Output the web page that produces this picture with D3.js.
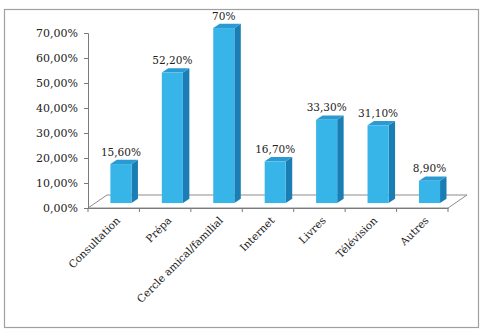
<!DOCTYPE html>
<html><head><meta charset="utf-8">
<script src="https://cdn.jsdelivr.net/npm/d3@7"></script>
<style>html,body{margin:0;padding:0;background:#fff;}svg{display:block;}</style>
</head><body>
<svg id="c" width="481" height="331"></svg>
<script>
const categories = ["Consultation","Prépa","Cercle amical/familial","Internet","Livres","Télévision","Autres"];
const values = [15.6, 52.2, 70, 16.7, 33.3, 31.1, 8.9];
const valueLabels = ["15,60%","52,20%","70%","16,70%","33,30%","31,10%","8,90%"];
const yTicks = [0,10,20,30,40,50,60,70];

const svg = d3.select("#c");
const fr = d3.formatLocale({decimal:",", thousands:" ", grouping:[3], currency:["","€"]});
const fmt = v => fr.format(".2f")(v) + "%";

// outer border
svg.append("rect").attr("x",4.5).attr("y",9.5).attr("width",474).attr("height",318)
  .attr("fill","#fff").attr("stroke","#a0a0a0").attr("stroke-width",1.2);

const x = d3.scaleBand().domain(categories).range([88,448]).paddingInner(0).paddingOuter(0);
const y = d3.scaleLinear().domain([0,70]).range([208,33]);

const DX = 19, DY = -13;   // full depth offset
const f1 = 0.38, f2 = 0.72; // bar depth fractions
const bw = x.bandwidth()*0.41;

// floor
const x0 = 88, x1 = 448, yf = y(0);
svg.append("path")
  .attr("d", `M${x0},${yf} L${x0+DX},${yf+DY} L${x1+DX},${yf+DY} L${x1},${yf} Z`)
  .attr("fill","#fff").attr("stroke","#8c8c8c").attr("stroke-width",1);

// y axis
const yAxis = d3.axisLeft(y).tickValues(yTicks).tickFormat(fmt).tickSize(4).tickPadding(6);
const ga = svg.append("g").attr("transform",`translate(${x0},0)`).call(yAxis);
ga.select(".domain").attr("stroke","#7a7a7a");
ga.selectAll(".tick line").attr("stroke","#7a7a7a");
ga.selectAll("text").attr("font-family","DejaVu Serif").attr("font-size",11).attr("fill","#222");

// x axis
const xAxis = d3.axisBottom(x).tickSize(0).tickFormat("");
const gx = svg.append("g").attr("transform",`translate(0,${yf})`).call(xAxis);
gx.select(".domain").attr("stroke","#7a7a7a");
const bounds = [x0].concat(categories.map(c => x(c)+x.bandwidth()));
svg.selectAll(".xt").data(bounds).enter().append("line")
  .attr("x1",d=>d).attr("x2",d=>d).attr("y1",yf).attr("y2",yf+4).attr("stroke","#7a7a7a");

svg.selectAll(".xl").data(categories).enter().append("text")
  .attr("transform", d => `translate(${x(d)+x.bandwidth()/2+5},${yf+11}) rotate(-45)`)
  .attr("text-anchor","end").attr("dominant-baseline","middle")
  .attr("font-family","DejaVu Serif").attr("font-size",10.5).attr("fill","#222")
  .text(d=>d);

// bars
const data = categories.map((c,i)=>({c, v:values[i], lab:valueLabels[i]}));
const g = svg.append("g");
data.forEach(d => {
  const cx = x(d.c) + x.bandwidth()/2;
  const fx = cx - bw/2 + DX*f1, fy0 = yf + DY*f1;
  const fyt = y(d.v) + DY*f1;
  const ddx = DX*(f2-f1), ddy = DY*(f2-f1);
  // side
  g.append("path").attr("d",`M${fx+bw},${fy0} L${fx+bw+ddx},${fy0+ddy} L${fx+bw+ddx},${fyt+ddy} L${fx+bw},${fyt} Z`)
    .attr("fill","#1a7db3");
  // top
  g.append("path").attr("d",`M${fx},${fyt} L${fx+ddx},${fyt+ddy} L${fx+bw+ddx},${fyt+ddy} L${fx+bw},${fyt} Z`)
    .attr("fill","#2b9ad3");
  // front
  g.append("rect").attr("x",fx).attr("y",fyt).attr("width",bw).attr("height",fy0-fyt)
    .attr("fill","#38b5e8");
  g.append("text").attr("x",fx+bw/2).attr("y",fyt+ddy-4)
    .attr("text-anchor","middle").attr("font-family","DejaVu Serif").attr("font-size",10.5)
    .attr("fill","#222").text(d.lab);
});
</script>
</body></html>
